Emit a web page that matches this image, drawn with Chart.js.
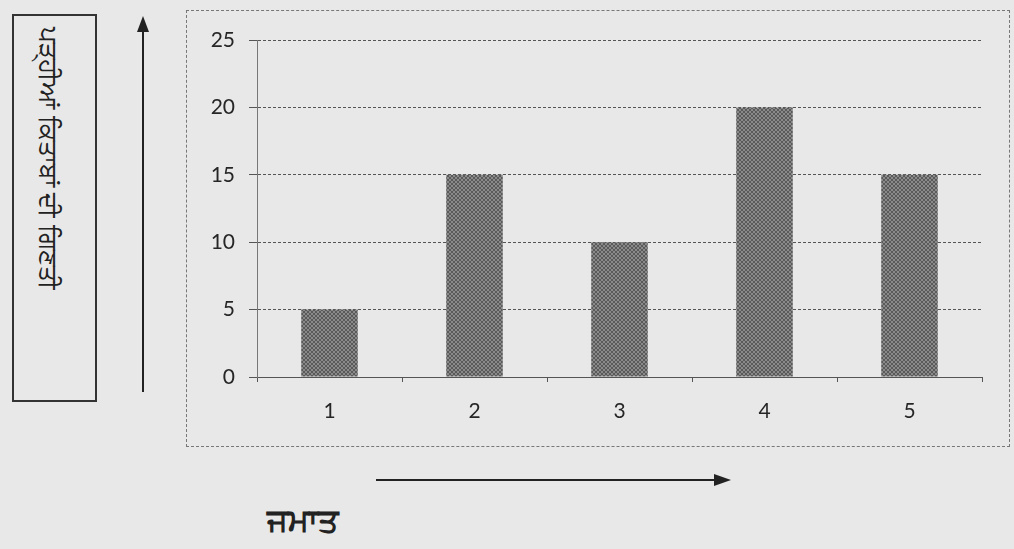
<!DOCTYPE html>
<html>
<head>
<meta charset="utf-8">
<script src="https://cdn.jsdelivr.net/npm/chart.js@4.4.1/dist/chart.umd.min.js"></script>
<style>
  html, body { margin: 0; padding: 0; }
  body { width: 1014px; height: 549px; background: #e8e8e8; position: relative; overflow: hidden;
         font-family: "Noto Sans", "DejaVu Sans", sans-serif; }
  #yBox { position: absolute; left: 12px; top: 14px; width: 85px; height: 388px;
          border: 2px solid #333; box-sizing: border-box; }
  #yTitle { position: absolute; left: 67px; top: 27px; transform-origin: 0 0; transform: rotate(90deg);
            font-size: 25px; color: #222; white-space: nowrap; }
  #xTitle { position: absolute; left: 267px; top: 497px; font-size: 32px; font-weight: bold; color: #222; }
  #arrows { position: absolute; left: 0; top: 0; }
  #wrap { position: absolute; left: 186px; top: 10px; width: 824px; height: 437px;
          border: 1px dashed #777; box-sizing: border-box; }
</style>
</head>
<body>
<div id="yBox"></div>
<div id="yTitle">ਪੜ੍ਹੀਆਂ ਕਿਤਾਬਾਂ ਦੀ ਗਿਣਤੀ</div>
<div id="xTitle">ਜਮਾਤ</div>
<svg id="arrows" width="1014" height="549">
  <line x1="143" y1="392" x2="143" y2="30" stroke="#222" stroke-width="2"/>
  <polygon points="137,32 149,32 143,16" fill="#222"/>
  <line x1="376" y1="480" x2="716" y2="480" stroke="#222" stroke-width="2"/>
  <polygon points="714,474 714,486 731,480" fill="#222"/>
</svg>
<div id="wrap"><canvas id="chart"></canvas></div>

<script>
// --- Data ---
const classes = ["1", "2", "3", "4", "5"];
const booksRead = [5, 15, 10, 20, 15];
const yMax = 25;
const yStep = 5;

// dotted grey fill like the scanned bars
function makeBarPattern() {
  const c = document.createElement("canvas");
  c.width = 4; c.height = 4;
  const g = c.getContext("2d");
  g.fillStyle = "#8a8a8a";
  g.fillRect(0, 0, 4, 4);
  g.fillStyle = "#5a5a5a";
  g.fillRect(0, 0, 2, 2);
  g.fillRect(2, 2, 2, 2);
  return g.createPattern(c, "repeat");
}

const tickFont = { family: "Lato, 'Open Sans', sans-serif", size: 21 };

new Chart(document.getElementById("chart"), {
  type: "bar",
  data: {
    labels: classes,
    datasets: [{
      data: booksRead,
      backgroundColor: makeBarPattern(),
      borderWidth: 0,
      barPercentage: 0.39,
      categoryPercentage: 1
    }]
  },
  options: {
    responsive: true,
    maintainAspectRatio: false,
    animation: false,
    layout: { padding: { top: 29, right: 27, left: 0, bottom: 0 } },
    plugins: { legend: { display: false }, tooltip: { enabled: false } },
    scales: {
      x: {
        grid: { drawOnChartArea: false, drawTicks: true, tickLength: 5, color: "#555" },
        border: { color: "#555", width: 1 },
        ticks: { color: "#262626", font: tickFont, padding: 17 },
        afterFit: s => { s.height = 69; }
      },
      y: {
        min: 0,
        max: yMax,
        ticks: { stepSize: yStep, color: "#262626", font: tickFont, padding: 14 },
        grid: { color: "#555", tickLength: 8, lineWidth: 1 },
        border: { color: "#777", dash: [3, 2], width: 1 },
        afterFit: s => { s.width = 70; }
      }
    }
  }
});
</script>
</body>
</html>
